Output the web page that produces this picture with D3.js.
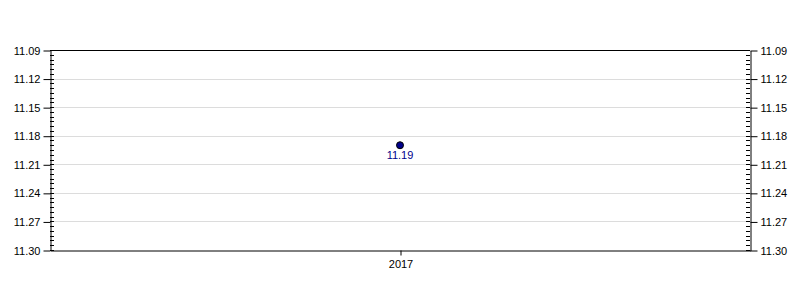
<!DOCTYPE html>
<html><head><meta charset="utf-8">
<script src="https://cdn.jsdelivr.net/npm/d3@7"></script>
<style>body{margin:0;background:#fff;}svg{display:block;font-family:"Liberation Sans",Arial,sans-serif;}</style>
</head><body>
<script>
const categories = ["2017"];
const values = [11.19];
const yTicks = [11.09, 11.12, 11.15, 11.18, 11.21, 11.24, 11.27, 11.30];
const yDomain = [11.09, 11.30];

const W = 800, H = 300, m = {l: 50, r: 50, t: 50, b: 50};
const svg = d3.select("body").append("svg").attr("width", W).attr("height", H);
const x = d3.scalePoint().domain(categories).range([m.l, W - m.r]).padding(0.5);
const y = d3.scaleLinear().domain(yDomain).range([m.t, H - m.b]);

const minor = d3.range(0, 43).map(i => yDomain[0] + i * 0.005).filter(v => v <= yDomain[1] + 1e-9);

// grid
svg.append("g").selectAll("line").data(yTicks.slice(1, -1)).join("line")
  .attr("x1", m.l).attr("x2", W - m.r)
  .attr("y1", d => Math.round(y(d)) + 0.5).attr("y2", d => Math.round(y(d)) + 0.5)
  .attr("stroke", "#dcdcdc");

// frame top/bottom
svg.append("line").attr("x1", m.l).attr("x2", W - m.r).attr("y1", m.t + 0.5).attr("y2", m.t + 0.5).attr("stroke", "#000");

const fmt = d3.format(".2f");
// left axis
const la = svg.append("g").attr("transform", `translate(${m.l + 0.5},0.5)`)
  .call(d3.axisLeft(y).tickValues(yTicks).tickFormat(fmt).tickSize(7).tickSizeOuter(0));
la.select(".domain").attr("stroke", "#000");
la.selectAll("text").attr("font-size", 11).attr("fill", "#000").attr("font-family", "Liberation Sans, Arial, sans-serif");
svg.append("g").selectAll("line").data(minor).join("line")
  .attr("x1", m.l).attr("x2", m.l + 4)
  .attr("y1", d => Math.round(y(d)) + 0.5).attr("y2", d => Math.round(y(d)) + 0.5).attr("stroke", "#000");

// right axis
const ra = svg.append("g").attr("transform", `translate(${W - m.r + 0.5},0.5)`)
  .call(d3.axisRight(y).tickValues(yTicks).tickFormat(fmt).tickSize(7).tickSizeOuter(0));
ra.select(".domain").attr("stroke", "#000");
ra.selectAll("text").attr("font-size", 11).attr("fill", "#000").attr("font-family", "Liberation Sans, Arial, sans-serif");
svg.append("g").selectAll("line").data(minor).join("line")
  .attr("x1", W - m.r - 4).attr("x2", W - m.r)
  .attr("y1", d => Math.round(y(d)) + 0.5).attr("y2", d => Math.round(y(d)) + 0.5).attr("stroke", "#000");

// bottom axis
const ba = svg.append("g").attr("transform", `translate(0.5,${H - m.b + 0.5})`)
  .call(d3.axisBottom(x).tickSize(5).tickSizeOuter(0).tickPadding(5));
ba.select(".domain").attr("stroke", "#000");
ba.selectAll("text").attr("font-size", 11).attr("fill", "#000").attr("font-family", "Liberation Sans, Arial, sans-serif");

// points
const pts = categories.map((c, i) => ({c, v: values[i]}));
svg.append("g").selectAll("circle").data(pts).join("circle")
  .attr("cx", d => x(d.c)).attr("cy", d => y(d.v)).attr("r", 3.5)
  .attr("fill", "#00008b").attr("stroke", "#000").attr("stroke-width", 1);
svg.append("g").selectAll("text").data(pts).join("text")
  .attr("x", d => x(d.c)).attr("y", d => y(d.v) + 14)
  .attr("text-anchor", "middle").attr("font-size", 11).attr("fill", "#00008b")
  .text(d => fmt(d.v));
</script>
</body></html>
